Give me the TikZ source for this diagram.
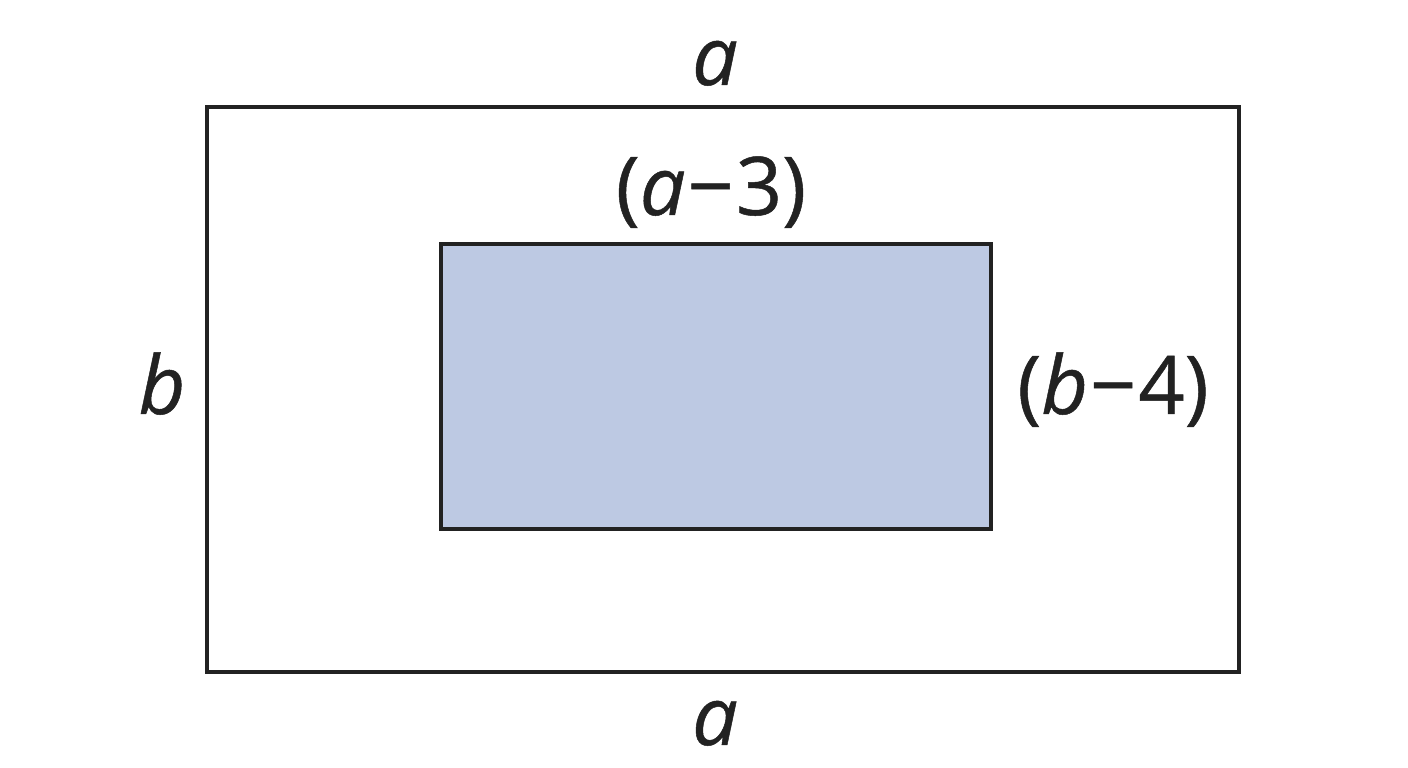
\documentclass[tikz,border=0pt]{standalone}
\usepackage{fontspec}
\setmainfont{Open Sans}[FakeBold=0.6]
\definecolor{ink}{HTML}{222222}
\definecolor{innerfill}{HTML}{BDC9E3}
\begin{document}
\begin{tikzpicture}[x=1pt,y=1pt,
  frame/.style={draw=ink,line width=3.6pt},
  lbl/.style={text=ink,font=\fontsize{81}{88}\selectfont,anchor=base,inner sep=0pt}]
\useasboundingbox[fill=white] (0,0) rectangle (1408,768);
\draw[frame] (207,661) rectangle (1239,96);
\draw[frame,fill=innerfill] (441,524) rectangle (991,239);
\node[lbl] (atop) at (715,683) {\textit{a}};
\node[lbl] (abot) at (715,23) {\textit{a}};
\node[lbl] (ain) at (711,553) {(\textit{a}\kern2pt−\kern2pt3)};
\node[lbl] (bl) at (162,354) {\textit{b}};
\node[lbl] (bin) at (1113,354) {(\textit{b}\kern2pt−\kern2pt4)};
\end{tikzpicture}
\end{document}
